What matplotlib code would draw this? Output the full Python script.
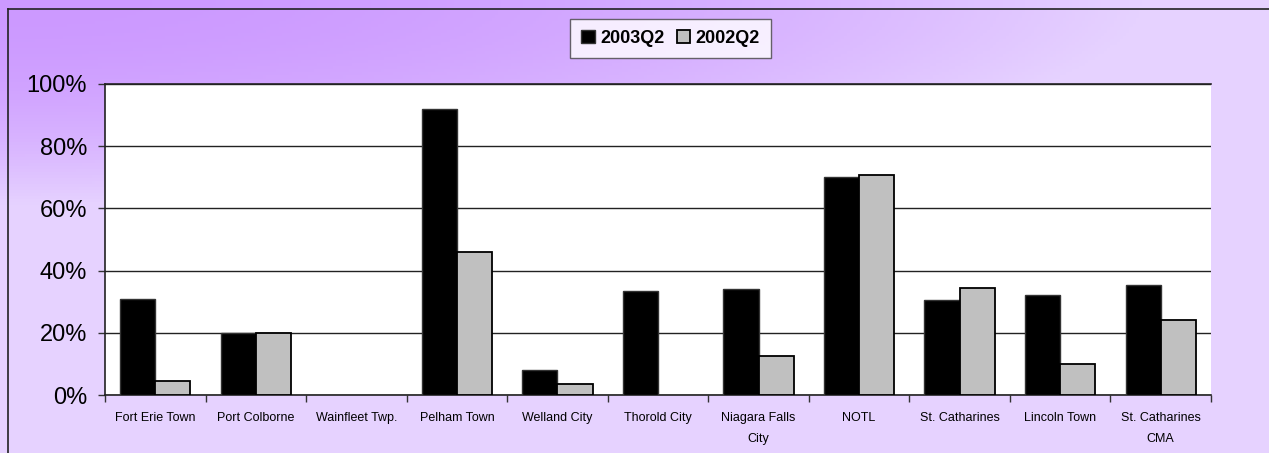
import matplotlib
matplotlib.use("Agg")
import matplotlib.pyplot as plt
from matplotlib.lines import Line2D
from matplotlib.ticker import FixedLocator, PercentFormatter
import numpy as np

plt.rcParams['font.family'] = ['Liberation Sans', 'DejaVu Sans']

# data
towns = ["Fort Erie Town", "Port Colborne", "Wainfleet Twp.", "Pelham Town",
         "Welland City", "Thorold City", "Niagara Falls\nCity", "NOTL",
         "St. Catharines", "Lincoln Town", "St. Catharines\nCMA"]
q2_2003 = [31.0, 20.0, 0.0, 92.0, 8.0, 33.5, 34.2, 70.0, 30.5, 32.0, 35.5]
q2_2002 = [4.5, 20.0, 0.0, 46.0, 3.5, 0.0, 12.5, 70.7, 34.5, 10.0, 24.0]
series_names = ["2003Q2", "2002Q2"]

W, H = 1269, 453
fig = plt.figure(figsize=(W / 100, H / 100), dpi=100)

# purple -> lavender background gradient from top-left corner
bg = fig.add_axes([0, 0, 1, 1], zorder=-10)
xx, yy = np.meshgrid(np.linspace(0, 1, 400), np.linspace(0, 1, 150))
t = np.clip(np.sqrt((xx / 0.9) ** 2 + (yy / 0.45) ** 2), 0, 1) ** 2
c0 = np.array([204, 153, 255]) / 255
c1 = np.array([230, 210, 255]) / 255
img = c0 + (c1 - c0) * t[..., None]
bg.imshow(img, aspect='auto', extent=[0, 1, 1, 0])
bg.set_xlim(0, 1)
bg.set_ylim(1, 0)
bg.axis('off')

# chart-area border (only top and left visible in the crop)
fig.add_artist(Line2D([8 / W, 1], [1 - 9 / H, 1 - 9 / H], color='#222222', lw=1.2))
fig.add_artist(Line2D([8 / W, 8 / W], [0, 1 - 9 / H], color='#222222', lw=1.2))

ax = fig.add_axes([105 / W, 1 - 395 / H, (1211 - 105) / W, (395 - 84) / H])
ax.set_facecolor('white')

x = np.arange(len(towns))
bw = 0.35
b1 = ax.bar(x - bw / 2, q2_2003, bw, color='black', edgecolor='#333333', lw=1.0, zorder=3)
b2 = ax.bar(x + bw / 2, q2_2002, bw, color='#C0C0C0', edgecolor='black', lw=1.3, zorder=3)
# empty values draw nothing in the original
for bars in (b1, b2):
    for p in bars:
        if p.get_height() == 0:
            p.set_visible(False)

ax.set_xlim(-0.5, len(towns) - 0.5)
ax.set_ylim(0, 100)
ax.set_yticks(np.arange(0, 101, 20))
ax.yaxis.set_major_formatter(PercentFormatter(decimals=0))
ax.grid(axis='y', color='#222222', lw=1.0, zorder=0)
ax.tick_params(axis='y', labelsize=17, length=5, width=1, color='#333333', pad=8)

ax.set_xticks(x)
ax.set_xticklabels(towns, fontsize=9, linespacing=2.0)
ax.tick_params(axis='x', which='major', length=0, pad=12)
ax.xaxis.set_minor_locator(FixedLocator(np.arange(-0.5, len(towns), 1)))
ax.tick_params(axis='x', which='minor', length=5, width=1, color='#333333')

for side in ['top', 'bottom', 'left', 'right']:
    ax.spines[side].set_color('#222222')
    ax.spines[side].set_linewidth(1.2)
ax.spines['right'].set_visible(False)

leg = fig.legend([b1, b2], series_names, loc='center', bbox_to_anchor=(670.5 / W, 1 - 38.5 / H),
                 ncol=2, frameon=True, fancybox=False, edgecolor='#444444',
                 prop={'weight': 'bold', 'size': 13}, handlelength=0.75, handleheight=0.75,
                 handletextpad=0.3, columnspacing=0.7, borderpad=0.6, borderaxespad=0)
leg.get_frame().set_linewidth(1.0)

fig.savefig("out.png", dpi=100)
